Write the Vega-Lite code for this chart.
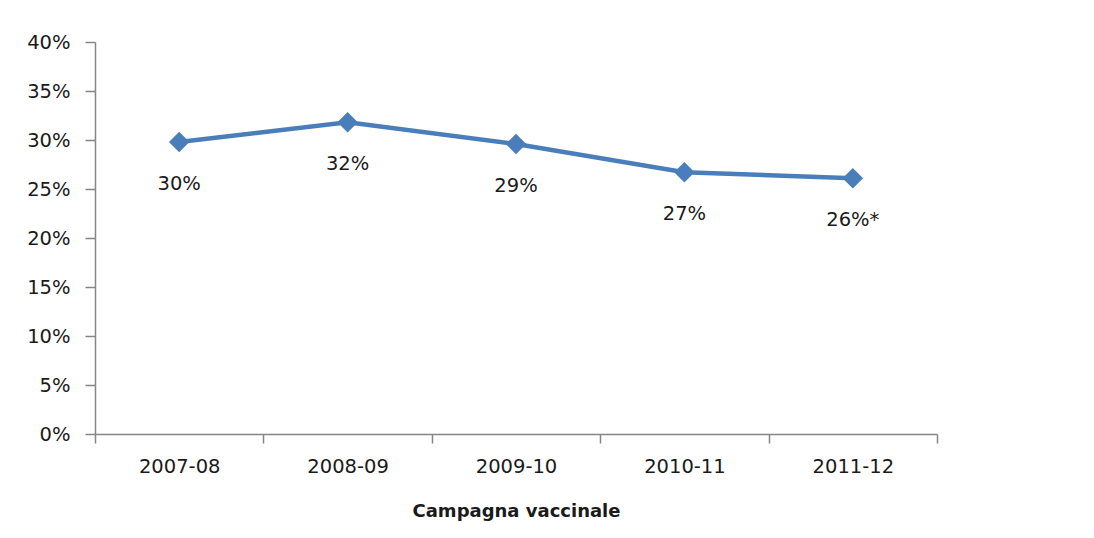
{
  "$schema": "https://vega.github.io/schema/vega-lite/v6.json",
  "autosize": "none",
  "width": 842,
  "height": 392,
  "padding": {"left": 95, "top": 42, "right": 157, "bottom": 104},
  "background": "white",
  "config": {
    "view": {"stroke": null},
    "font": "DejaVu Sans"
  },
  "data": {
    "values": [
      {"campagna": "2007-08", "valore": 0.298, "etichetta": "30%"},
      {"campagna": "2008-09", "valore": 0.318, "etichetta": "32%"},
      {"campagna": "2009-10", "valore": 0.296, "etichetta": "29%"},
      {"campagna": "2010-11", "valore": 0.267, "etichetta": "27%"},
      {"campagna": "2011-12", "valore": 0.261, "etichetta": "26%*"}
    ]
  },
  "encoding": {
    "x": {
      "field": "campagna",
      "type": "nominal",
      "sort": null,
      "scale": {"type": "band", "paddingInner": 0, "paddingOuter": 0},
      "axis": {
        "title": "Campagna vaccinale",
        "titleFont": "DejaVu Sans",
        "titleFontSize": 18,
        "titleFontWeight": "bold",
        "titleColor": "#1a1a1a",
        "titlePadding": 27,
        "labelAngle": 0,
        "labelFontSize": 19.5,
        "labelColor": "#1a1a1a",
        "labelPadding": 14,
        "tickBand": "extent",
        "tickSize": 9,
        "tickColor": "#868686",
        "domainColor": "#868686",
        "domainWidth": 1.5,
        "tickWidth": 1.5,
        "grid": false
      }
    },
    "y": {
      "field": "valore",
      "type": "quantitative",
      "scale": {"domain": [0, 0.4], "nice": false},
      "axis": {
        "title": null,
        "format": ".0%",
        "values": [0, 0.05, 0.1, 0.15, 0.2, 0.25, 0.3, 0.35, 0.4],
        "labelFontSize": 19.5,
        "labelColor": "#1a1a1a",
        "labelPadding": 15,
        "tickSize": 10,
        "tickColor": "#868686",
        "domainColor": "#868686",
        "domainWidth": 1.5,
        "tickWidth": 1.5,
        "grid": false
      }
    }
  },
  "layer": [
    {
      "mark": {"type": "line", "color": "#4a7ebb", "strokeWidth": 4.5}
    },
    {
      "mark": {"type": "point", "shape": "diamond", "filled": true, "size": 420, "color": "#4a7ebb", "opacity": 1}
    },
    {
      "mark": {"type": "text", "dy": 42, "fontSize": 19.5, "color": "#1a1a1a", "baseline": "middle"},
      "encoding": {"text": {"field": "etichetta"}}
    }
  ]
}
